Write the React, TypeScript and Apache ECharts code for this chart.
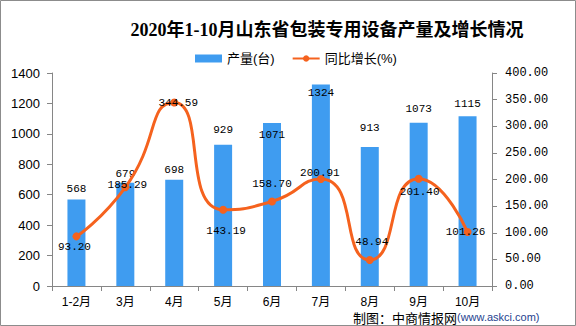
import React, { useEffect, useRef } from "react";
import * as echarts from "echarts";

const categories = ["1-2月", "3月", "4月", "5月", "6月", "7月", "8月", "9月", "10月"];
const production = [568, 679, 698, 929, 1071, 1324, 913, 1073, 1115];
const growth = [93.2, 185.29, 344.59, 143.19, 158.7, 200.91, 48.94, 201.4, 101.26];

// label placement styles (offset in px relative to default spot)
const barLabelDy = [-11, -9, -10, -15, 11, 8, -20, -14, -13];
const lineLabelOffset = [
  [-2, 11], [2, -2], [4, 0], [3, 21], [0, -17], [-1, -6], [2, -18], [1, 13], [-2, 0],
];

export default function App() {
  const ref = useRef<HTMLDivElement>(null);
  useEffect(() => {
    if (!ref.current) return;
    const chart = echarts.init(ref.current, null, { renderer: "svg" });
    const mono = "'Liberation Mono', 'DejaVu Sans Mono', monospace";
    const sans = "'Liberation Sans', Arial, 'Noto Sans CJK SC', sans-serif";
    chart.setOption({
      animation: false,
      backgroundColor: "#ffffff",
      title: {
        text: "2020年1-10月山东省包装专用设备产量及增长情况",
        left: 322,
        top: 16,
        textAlign: "center",
        textStyle: {
          fontFamily: "'Liberation Serif', 'Noto Sans CJK SC', serif",
          fontWeight: "bold",
          fontSize: 18,
          color: "#000",
        },
      },
      legend: {
        top: 47,
        left: 190,
        itemWidth: 27,
        itemHeight: 8,
        itemGap: 17,
        textStyle: { fontSize: 13, color: "#000", fontFamily: sans },
        data: [
          { name: "产量(台)", icon: "rect" },
          { name: "同比增长(%)" },
        ],
      },
      grid: { left: 52, right: 84, top: 73, bottom: 40 },
      xAxis: {
        type: "category",
        data: categories,
        axisLine: { lineStyle: { color: "#868686" } },
        axisTick: { show: true, interval: 0, lineStyle: { color: "#868686" } },
        axisLabel: { color: "#000", fontSize: 12, margin: 10, fontFamily: sans, interval: 0 },
      },
      yAxis: [
        {
          type: "value",
          min: 0,
          max: 1400,
          interval: 200,
          axisLine: { show: true, lineStyle: { color: "#868686" } },
          axisTick: { show: true, lineStyle: { color: "#868686" } },
          splitLine: { show: false },
          axisLabel: {
            color: "#000",
            fontSize: 13,
            margin: 12,
            fontFamily: sans,
            formatter: (v: number) => String(v),
          },
        },
        {
          type: "value",
          min: 0,
          max: 400,
          interval: 50,
          position: "right",
          axisLine: { show: true, lineStyle: { color: "#868686" } },
          axisTick: { show: true, lineStyle: { color: "#868686" } },
          splitLine: { show: false },
          axisLabel: {
            color: "#000",
            fontSize: 12,
            margin: 13,
            fontFamily: mono,
            formatter: (v: number) => v.toFixed(2),
          },
        },
      ],
      series: [
        {
          name: "产量(台)",
          type: "bar",
          barWidth: 18,
          itemStyle: { color: "#3F9CF0" },
          data: production.map((v, i) => ({
            value: v,
            label: {
              show: true,
              position: "top",
              distance: 0,
              offset: [0, barLabelDy[i] + 6],
              fontSize: 11,
              color: "#000",
              fontFamily: mono,
            },
          })),
        },
        {
          name: "同比增长(%)",
          type: "line",
          yAxisIndex: 1,
          smooth: 0.6,
          symbol: "circle",
          symbolSize: 8,
          lineStyle: { color: "#F5621E", width: 3 },
          itemStyle: { color: "#F5621E" },
          data: growth.map((v, i) => ({
            value: v,
            label: {
              show: true,
              position: "inside",
              offset: lineLabelOffset[i],
              fontSize: 11,
              color: "#000",
              fontFamily: mono,
              formatter: (p: any) => Number(p.value).toFixed(2),
            },
          })),
        },
      ],
      graphic: [
        {
          type: "rect",
          shape: { x: 0.5, y: 0.5, width: 575, height: 325 },
          style: { fill: "none", stroke: "#8c8c8c", lineWidth: 1 },
          silent: true,
        },
        {
          type: "text",
          x: 457,
          y: 317,
          style: {
            text: "制图：中商情报网",
            fontSize: 13,
            fill: "#000",
            fontFamily: "'Noto Sans CJK SC', sans-serif",
            align: "right",
            verticalAlign: "middle",
          },
        },
        {
          type: "text",
          x: 457,
          y: 317,
          style: {
            text: "(www.askci.com)",
            fontSize: 11,
            fill: "#1F3F8F",
            fontFamily: sans,
            align: "left",
            verticalAlign: "middle",
          },
        },
      ],
    });
    return () => chart.dispose();
  }, []);
  return (
    <div
      ref={ref}
      style={{ position: "fixed", left: 0, top: 0, width: 576, height: 326 }}
    />
  );
}
